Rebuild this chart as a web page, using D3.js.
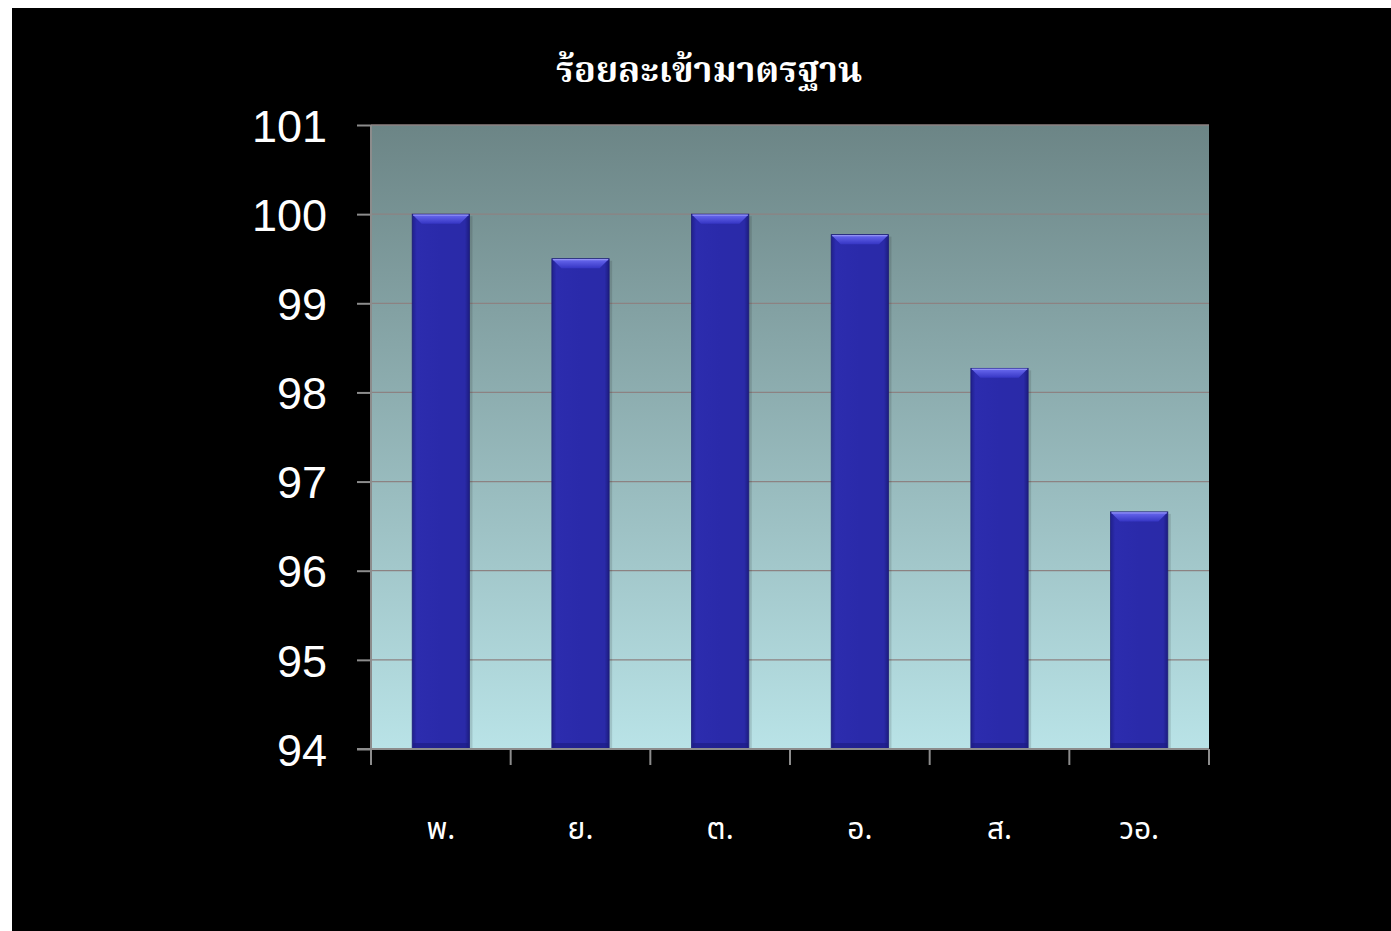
<!DOCTYPE html>
<html><head><meta charset="utf-8">
<script src="https://cdn.jsdelivr.net/npm/d3@7"></script>
<style>
html,body{margin:0;padding:0;background:#fff;}
svg{display:block;}
</style></head>
<body>
<script>
const categories = ["พ.", "ย.", "ต.", "อ.", "ส.", "วอ."];
const values = [100, 99.5, 100, 99.77, 98.27, 96.66];
const yTicks = [94, 95, 96, 97, 98, 99, 100, 101];
const title = "ร้อยละเข้ามาตรฐาน";

const W = 1391, H = 931;
const svg = d3.select("body").append("svg").attr("width", W).attr("height", H);
svg.append("rect").attr("x", 12).attr("y", 8).attr("width", W - 12).attr("height", H - 8).attr("fill", "#000");

const defs = svg.append("defs");
const bg = defs.append("linearGradient").attr("id", "bg").attr("x1", 0).attr("y1", 0).attr("x2", 0).attr("y2", 1);
bg.append("stop").attr("offset", "0%").attr("stop-color", "#6c8586");
bg.append("stop").attr("offset", "100%").attr("stop-color", "#b9e3e7");
const barG = defs.append("linearGradient").attr("id", "barG").attr("x1", 0).attr("y1", 0).attr("x2", 1).attr("y2", 0);
barG.append("stop").attr("offset", "0%").attr("stop-color", "#20208c");
barG.append("stop").attr("offset", "8%").attr("stop-color", "#2c2cae");
barG.append("stop").attr("offset", "50%").attr("stop-color", "#2a2aaa");
barG.append("stop").attr("offset", "92%").attr("stop-color", "#2a2aa8");
barG.append("stop").attr("offset", "100%").attr("stop-color", "#1c1c80");
const topG = defs.append("linearGradient").attr("id", "topG").attr("x1", 0).attr("y1", 0).attr("x2", 0).attr("y2", 1);
topG.append("stop").attr("offset", "0%").attr("stop-color", "#6a6af0");
topG.append("stop").attr("offset", "100%").attr("stop-color", "#3636c4");

const L = 371, R = 1209, T = 125, B = 749;
const x = d3.scaleBand().domain(categories).range([L, R]).paddingInner(0.59).paddingOuter(0.295);
const y = d3.scaleLinear().domain([94, 101]).range([B, T]);

svg.append("rect").attr("x", L).attr("y", T).attr("width", R - L).attr("height", B - T).attr("fill", "url(#bg)");

// gridlines
svg.append("g").selectAll("line").data(yTicks).join("line")
  .attr("x1", L).attr("x2", R).attr("y1", d => y(d)).attr("y2", d => y(d))
  .attr("stroke", "#8c8282").attr("stroke-width", 1.3);

// bars
const bars = svg.append("g").selectAll("g").data(values).join("g");
bars.append("rect")
  .attr("x", (d, i) => x(categories[i]) + x.bandwidth()).attr("width", 3)
  .attr("y", d => y(d) + 2).attr("height", d => B - y(d) - 2)
  .attr("fill", "#000").attr("opacity", 0.12);
bars.append("rect")
  .attr("x", (d, i) => x(categories[i])).attr("width", x.bandwidth())
  .attr("y", d => y(d)).attr("height", d => B - y(d))
  .attr("fill", "url(#barG)").attr("stroke", "#1c1c78").attr("stroke-width", 0.8);
bars.append("path")
  .attr("d", (d, i) => {
    const x0 = x(categories[i]) + 0.5, x1 = x0 + x.bandwidth() - 1, t = y(d) + 0.5, b = 9;
    return `M${x0},${t}L${x1},${t}L${x1 - b},${t + b}L${x0 + b},${t + b}Z`;
  }).attr("fill", "url(#topG)");
bars.append("line")
  .attr("x1", (d, i) => x(categories[i]) + 1).attr("x2", (d, i) => x(categories[i]) + x.bandwidth() - 1)
  .attr("y1", d => y(d) + 1).attr("y2", d => y(d) + 1)
  .attr("stroke", "#9090f4").attr("stroke-width", 1.2);
bars.append("rect")
  .attr("x", (d, i) => x(categories[i]) + 1).attr("width", x.bandwidth() - 2)
  .attr("y", B - 6).attr("height", 6).attr("fill", "#1a1a80").attr("opacity", 0.6);

// y axis
const yAxis = svg.append("g").attr("transform", `translate(${L},0)`)
  .call(d3.axisLeft(y).tickValues(yTicks).tickSize(14).tickPadding(30).tickFormat(d3.format("d")));
yAxis.select(".domain").attr("stroke", "#8c8c8c").attr("stroke-width", 2).attr("d", `M0,${T}V${B}`);
yAxis.selectAll(".tick line").attr("stroke", "#8c8c8c").attr("stroke-width", 2);
yAxis.selectAll(".tick text").attr("fill", "#fff").attr("font-family", "Liberation Sans, Arial, sans-serif")
  .attr("font-size", 45).attr("dy", "0.36em");

// x axis
const xAxis = svg.append("g").attr("transform", `translate(0,${B})`);
xAxis.append("line").attr("x1", L - 14).attr("x2", R).attr("y1", 0).attr("y2", 0).attr("stroke", "#8c8c8c").attr("stroke-width", 2);
const bounds = d3.range(categories.length + 1).map(i => L + i * (R - L) / categories.length);
xAxis.selectAll("line.tk").data(bounds).join("line").attr("class", "tk")
  .attr("x1", d => d).attr("x2", d => d).attr("y1", 0).attr("y2", 16)
  .attr("stroke", "#8c8c8c").attr("stroke-width", 2);
xAxis.selectAll("text").data(categories).join("text")
  .attr("x", d => x(d) + x.bandwidth() / 2).attr("y", 90)
  .attr("text-anchor", "middle").attr("fill", "#fff")
  .attr("font-family", "Noto Sans Thai, Noto Serif Thai, Loma, Garuda, sans-serif")
  .attr("font-size", 30).text(d => d);

svg.append("text").attr("x", 709).attr("y", 82).attr("text-anchor", "middle")
  .attr("fill", "#fff").attr("font-weight", "bold")
  .attr("font-family", "Noto Serif Thai, Noto Sans Thai, Loma, Garuda, serif")
  .attr("font-size", 36).text(title);
</script>
</body></html>
